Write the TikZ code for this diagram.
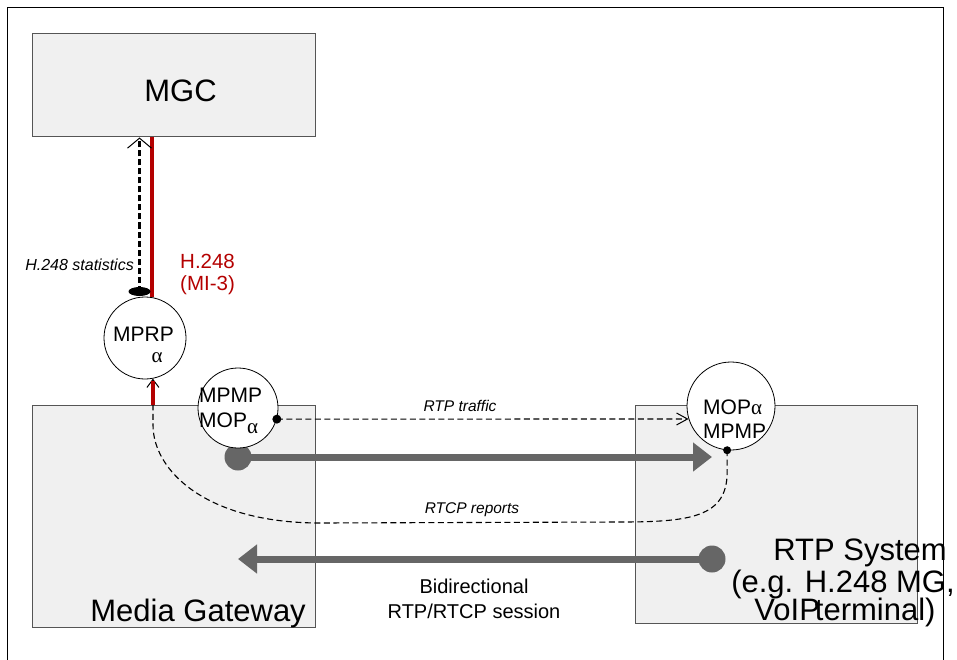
\documentclass[tikz,border=0pt]{standalone}
\usepackage{fontspec}
\setmainfont{Liberation Sans}
\newfontfamily\grk{Liberation Serif}
\usetikzlibrary{arrows.meta,calc,shapes.geometric}
\definecolor{boxfill}{HTML}{F0F0F0}
\definecolor{boxline}{HTML}{555555}
\definecolor{flowgray}{HTML}{666666}
\definecolor{hred}{RGB}{180,0,0}
\begin{document}
\begin{tikzpicture}[x=1pt,y=-1pt,
  entity/.style={draw=boxline, fill=boxfill, line width=1pt, inner sep=0},
  probe/.style={circle, draw=black, fill=white, line width=0.8pt, inner sep=0},
  lbl/.style={inner sep=0, anchor=base},
  lblw/.style={inner sep=0, anchor=base west},
  lble/.style={inner sep=0, anchor=base east},
  big/.style={font=\fontsize{31}{30}\selectfont},
  mid/.style={font=\fontsize{21}{24}\selectfont},
  note/.style={font=\fontsize{15.5}{18}\selectfont\itshape},
  smalldot/.style={circle, fill=black, inner sep=0, minimum size=#1},
  graydot/.style={circle, fill=flowgray, inner sep=0, minimum size=27pt},
  thindash/.style={line width=1.1pt, dash pattern=on 6pt off 3.5pt},
  statline/.style={line width=2.8pt, dash pattern=on 6pt off 3pt,
    -{Straight Barb[length=10pt,width=24pt,line width=1pt]}},
  h248line/.style={draw=hred, line width=3.5pt},
  flowarrow/.style={draw=flowgray, line width=7pt,
    -{Triangle[length=19pt,width=28pt]}},
  openarrow/.style={-{Straight Barb[length=#1,width=12pt,line width=1pt]}}
]
\useasboundingbox (0,0) rectangle (957,660);
% outer frame
\draw[line width=1pt] (7,660) -- (7,8) -- (943,8) -- (943,660);

% boxes
\node[entity, minimum width=283pt, minimum height=103pt] (mgc) at (173.5,85.5) {};
\node[entity, minimum width=283pt, minimum height=222pt] (mg) at (173.5,516) {};
\node[entity, minimum width=282pt, minimum height=218pt] (rtps) at (776,514) {};

% gray RTP/RTCP session arrows
\node[graydot] (gdotL) at (238,457) {};
\coordinate (gtipR) at (712,457);
\draw[flowarrow] (gdotL.center) -- (gtipR);
\node[graydot] (gdotR) at (712,559) {};
\coordinate (gtipL) at (238,559);
\draw[flowarrow] (gdotR.center) -- (gtipL);

% probe circles
\node[probe, minimum size=82pt] (mprp) at (145,338) {};
\node[probe, minimum size=80pt] (mpmpL) at (238,408) {};
\node[probe, minimum size=88pt] (mopR) at (731,406) {};

% RTCP reports (dashed curve, to MPRP)
\node[smalldot=8pt] (rdot) at (mopR.265) {};
\draw[thindash, openarrow=8pt] (rdot.center) -- ++(0,22)
  .. controls ++(0,45) and (690,522) .. (620,522) -- (320,523)
  .. controls (205,523) and (153,470) .. (153,425) -- (mprp.-79);

% H.248 red lines
\draw[h248line, shorten >=2pt] (mprp.-79 |- mg.north) -- (mprp.-79);
\draw[h248line] (mprp.80) -- (mprp.80 |- mgc.south);

% H.248 statistics
\node[ellipse, fill=black, inner sep=0, minimum width=22pt, minimum height=9pt] (statdot) at (139.5,291.5) {};
\draw[statline] (statdot.center) -- (statdot.center |- mgc.south);

% RTP traffic
\node[smalldot=9pt] (tdot) at (mpmpL.-16) {};
\draw[thindash, openarrow=11pt] (tdot.center) -- (mopR.197);

% texts
\node[lbl, big] (tmgc) at (180.5,102) {MGC};
\node[lble, font=\fontsize{31}{30}\selectfont] (tmg) at (306,621) {Media Gateway};
\node[lbl, big] (trtp1) at (860,560) {RTP System};
\node[lbl, big] (trtp2) at (843,592) {(e.g. H.248 MG,};
\node[lbl, big] (trtp3) at (845,620) {VoIP\kern-5pt terminal)};

\node[lblw, mid] (tmprp) at (113,341) {MPRP};
\node[lbl, mid] (tmprpa) at (157,362) {\grk α};
\node[lblw, mid] (tmpmpL) at (199,402) {MPMP};
\node[lblw, mid] (tmopL) at (199,427) {MOP\raisebox{-6pt}{\grk α}};
\node[lblw, mid] (tmopR) at (703,414) {MOP{\grk α}};
\node[lblw, mid] (tmpmpR) at (703,438) {MPMP};

\node[lble, font=\fontsize{16}{18}\selectfont\itshape] (tstat) at (134,270) {H.248 statistics};
\node[lblw, text=hred, font=\fontsize{20.5}{22}\selectfont] (th1) at (180,268) {H.248};
\node[lblw, text=hred, font=\fontsize{20.5}{22}\selectfont] (th2) at (180,290) {(MI-3)};

\node[lbl, note] (ttraffic) at (460,411) {RTP traffic};
\node[lbl, note] (treports) at (472,513) {RTCP reports};
\node[lbl, font=\fontsize{20}{22}\selectfont] (tbi1) at (474,593) {Bidirectional};
\node[lbl, font=\fontsize{20}{22}\selectfont] (tbi2) at (474,618) {RTP/RTCP session};
\end{tikzpicture}
\end{document}
